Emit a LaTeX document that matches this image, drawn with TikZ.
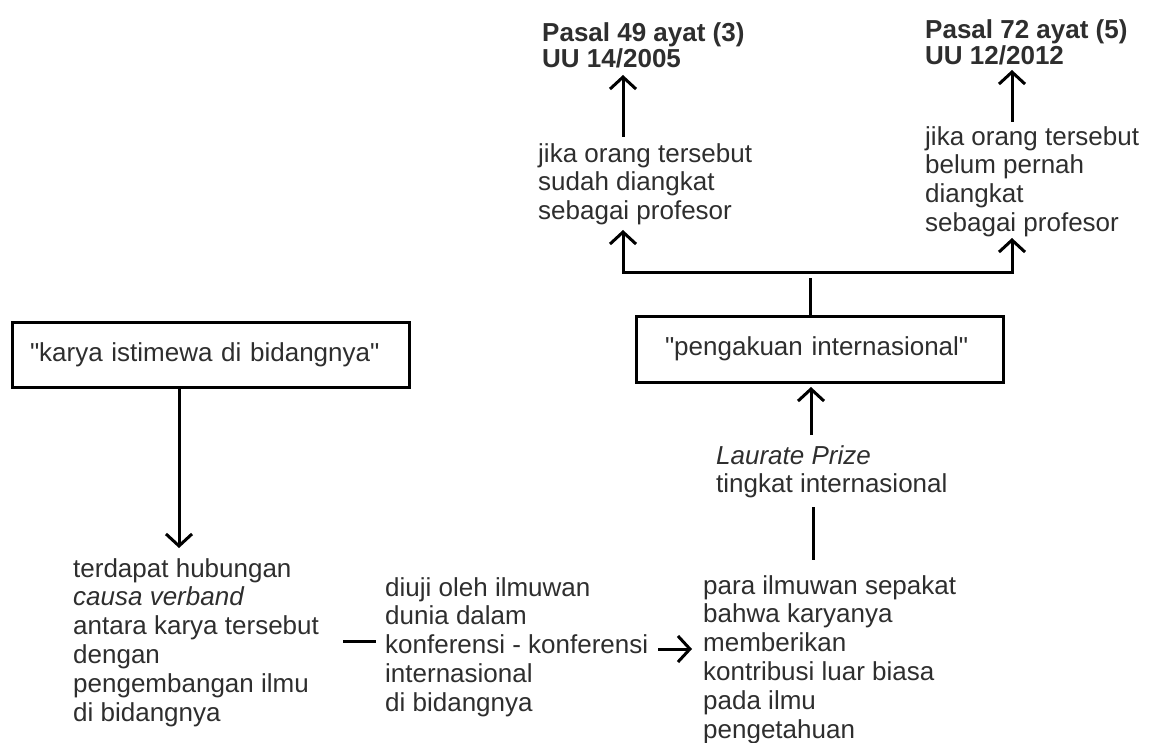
\documentclass[tikz,border=0pt]{standalone}
\usepackage{fontspec}
\setmainfont{Liberation Sans}[Ligatures=TeXOff]
\usetikzlibrary{arrows.meta}
\definecolor{txtgray}{HTML}{2E2E2E}

\begin{document}
\begin{tikzpicture}[x=1pt,y=-1pt,
  body/.style={anchor=north west,inner sep=0pt,align=left,text=txtgray,font=\fontsize{26}{28.8}\selectfont},
  head/.style={body,font=\bfseries\fontsize{26}{26.5}\selectfont},
  termbox/.style={draw,line width=3pt,text=txtgray,font=\fontsize{26}{28.8}\selectfont,inner ysep=0pt,align=left},
  link/.style={line width=3pt},
  arr/.style={link,-{Straight Barb[length=12pt,width=26pt]}}]
  \useasboundingbox (0,0) rectangle (1158,743);
  % the two terms
  \node[termbox,inner xsep=18pt,text width=361pt,minimum height=65pt] (karya) at (210.5,354.5) {"karya istimewa di bidangnya"};
  \node[termbox,inner xsep=29pt,text width=309pt,minimum height=66pt] (pengakuan) at (819.5,349) {"pengakuan internasional"};
  % legal bases
  \node[head] (pasal49) at (542,22) {Pasal 49 ayat (3)\\UU 14/2005};
  \node[head] (pasal72) at (925,19) {Pasal 72 ayat (5)\\UU 12/2012};
  % conditions
  \node[body] (sudah) at (538,143) {jika orang tersebut\\sudah diangkat\\sebagai profesor};
  \node[body] (belum) at (925,126) {jika orang tersebut\\belum pernah\\diangkat\\sebagai profesor};
  \node[body] (laurate) at (716,445) {\textit{Laurate Prize}\\tingkat internasional};
  % chain at the bottom
  \node[body] (causa) at (73,558) {terdapat hubungan\\\textit{causa verband}\\antara karya tersebut\\dengan\\pengembangan ilmu\\di bidangnya};
  \node[body] (diuji) at (385,577) {diuji oleh ilmuwan\\dunia dalam\\konferensi - konferensi\\internasional\\di bidangnya};
  \node[body] (sepakat) at (703,575) {para ilmuwan sepakat\\bahwa karyanya\\memberikan\\kontribusi luar biasa\\pada ilmu\\pengetahuan};
  % arrow ends
  \coordinate (tipC) at (179,548);
  \coordinate (tip49) at (623,75);
  \coordinate (tip72) at (1012,70);
  \coordinate (fork) at (810,272);
  \coordinate (tipS) at (623,230);
  \coordinate (tipB) at (1012,238);
  \coordinate (tipL) at (811,387);
  \coordinate (topP) at (813,507);
  \coordinate (dashL) at (343,641);
  \coordinate (tailK) at (658,649);
  % connectors
  \draw[arr] (karya.south -| tipC) -- (tipC);
  \draw[arr,shorten <=6pt] (sudah.north -| tip49) -- (tip49);
  \draw[arr,shorten <=4pt] (belum.north -| tip72) -- (tip72);
  \draw[arr] (fork) -| (tipS);
  \draw[arr] (fork) -| (tipB);
  \draw[link] (pengakuan.north -| fork) -- ([yshift=-6pt]fork);
  \draw[arr,shorten <=10pt] (laurate.north -| tipL) -- (tipL);
  \draw[link,shorten >=15pt] (topP) -- (sepakat.north -| topP);
  \draw[link,shorten >=9pt] (dashL) -- (diuji.west |- dashL);
  \draw[arr,shorten >=11pt] (tailK) -- (sepakat.west |- tailK);
\end{tikzpicture}
\end{document}
